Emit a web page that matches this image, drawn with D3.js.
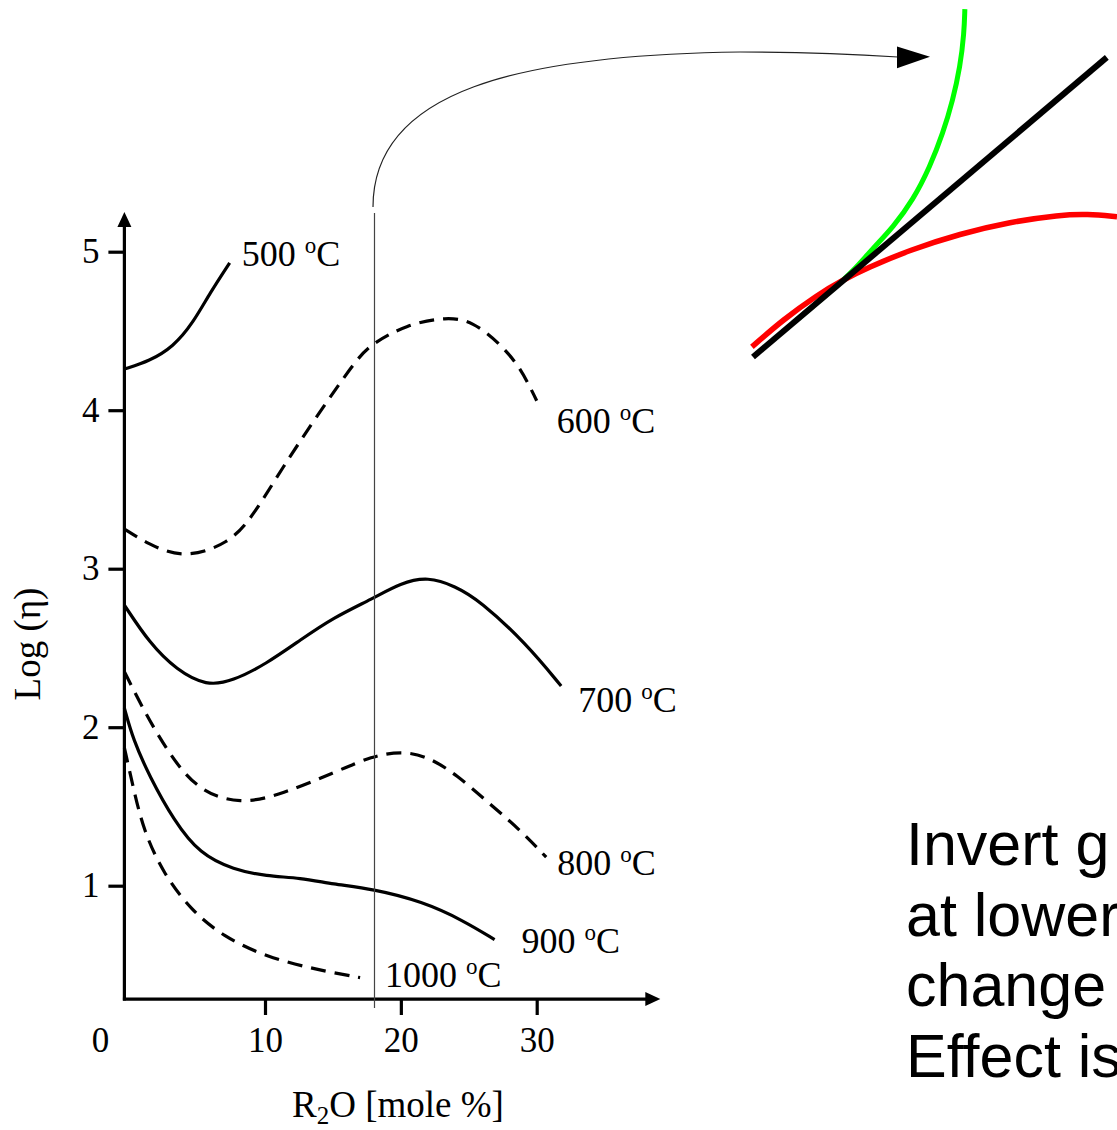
<!DOCTYPE html>
<html>
<head>
<meta charset="utf-8">
<script src="https://cdn.jsdelivr.net/npm/d3@7"></script>
<style>
  html, body { margin: 0; padding: 0; background: #fff; overflow: hidden; }
  svg { display: block; }
</style>
</head>
<body>
<div id="chart"></div>
<script>
// viscosity curves: [R2O mole %, log(eta)]
var temps = [500, 600, 700, 800, 900, 1000];

var curve500 = [[-0.35, 4.26], [1.5, 4.31], [3.25, 4.40], [4.7, 4.55], [5.95, 4.74], [7.4, 4.93]];
var curve600 = [[-0.35, 3.25], [1.3, 3.16], [4.0, 3.06], [7.4, 3.16], [9.1, 3.33], [11.3, 3.64], [13.8, 3.96],
  [16.8, 4.33], [17.9, 4.42], [20.4, 4.54], [23.4, 4.59], [25.3, 4.56], [27.3, 4.42], [28.8, 4.27], [30.0, 4.06]];
var curve700 = [[-0.35, 2.77], [1.5, 2.53], [3.5, 2.36], [5.7, 2.26], [7.6, 2.29], [10.1, 2.40], [12.6, 2.55],
  [15.0, 2.69], [17.9, 2.81], [20.0, 2.91], [22.0, 2.95], [24.0, 2.89], [25.8, 2.80], [29.2, 2.53], [31.8, 2.26]];
var curve800 = [[-0.35, 2.35], [1.05, 2.11], [2.8, 1.85], [5.0, 1.60], [8.2, 1.51], [11.3, 1.58], [15.0, 1.71],
  [17.9, 1.82], [20.2, 1.85], [22.1, 1.81], [24.1, 1.70], [26.5, 1.52], [28.8, 1.35], [30.7, 1.18]];
var curve900 = [[-0.35, 2.12], [0.3, 1.92], [1.5, 1.69], [3.3, 1.41], [5.2, 1.20], [7.7, 1.10], [10.1, 1.06],
  [12.6, 1.05], [15.0, 1.01], [17.9, 0.98], [21.6, 0.90], [24.6, 0.78], [26.9, 0.66]];
var curve1000 = [[-0.35, 1.87], [0.3, 1.62], [1.05, 1.35], [2.5, 1.08], [4.5, 0.85], [6.9, 0.68], [10.1, 0.55],
  [13.8, 0.47], [17.0, 0.42]];

var curves = [curve500, curve600, curve700, curve800, curve900, curve1000];

var xTicks = [10, 20, 30];
var yTicks = [1, 2, 3, 4, 5];
var markerR2O = 18.06;

// sketch on the right (arbitrary units 0..100)
var sketchGreen = [[12.0, 10.6], [21.2, 18.6], [27.5, 24.5], [33.0, 31.1], [38.5, 37.1],
  [44.0, 44.9], [48.6, 54.3], [52.2, 64.0], [54.9, 73.4], [56.9, 82.9], [58.0, 92.6], [58.2, 99.4]];
var sketchRed = [[-0.3, 2.9], [8.2, 10.6], [17.6, 17.7], [24.7, 22.0], [31.3, 25.4], [43.1, 30.6], [56.9, 35.2],
  [70.6, 38.6], [84.3, 40.6], [91.8, 40.9], [100, 40.1]];
var sketchBlack = [[0, 0], [97.2, 85.6]];

var noteLines = ["Invert g", "at lower", "change", "Effect is"];

// ---- layout ----
var W = 1117, H = 1130;
var serif = "'Liberation Serif', 'Times New Roman', serif";
var dashed = new Set([600, 800, 1000]);
var labelOffset = { 500: [12, 3], 600: [20, 32], 700: [17, 26], 800: [11, 18], 900: [27, 13], 1000: [25, 9] };

var svg = d3.select("#chart").append("svg")
  .attr("width", W)
  .attr("height", H)
  .style("background", "#fff");

var x = d3.scaleLinear().domain([0, 30]).range([129.15, 536.7]);
var y = d3.scaleLinear().domain([1, 5]).range([885.7, 251.7]);

var axisX0 = x(-0.35), axisXEnd = x(39.1);
var axisY0 = y(0.285), axisYEnd = y(5.25);

// axes lines + arrows
svg.append("line")
  .attr("x1", axisX0).attr("y1", axisY0 + 1.5)
  .attr("x2", axisX0).attr("y2", axisYEnd + 10)
  .attr("stroke", "#000").attr("stroke-width", 3.2);
svg.append("line")
  .attr("x1", axisX0 - 1.5).attr("y1", axisY0)
  .attr("x2", axisXEnd - 10).attr("y2", axisY0)
  .attr("stroke", "#000").attr("stroke-width", 3.2);
svg.append("path")
  .attr("d", `M${axisX0 - 7},${axisYEnd + 15} L${axisX0},${axisYEnd} L${axisX0 + 7},${axisYEnd + 15} Z`)
  .attr("fill", "#000");
svg.append("path")
  .attr("d", `M${axisXEnd - 15},${axisY0 - 7} L${axisXEnd},${axisY0} L${axisXEnd - 15},${axisY0 + 7} Z`)
  .attr("fill", "#000");

// ticks
var yAxis = svg.append("g")
  .attr("transform", `translate(${axisX0},0)`)
  .call(d3.axisLeft(y).tickValues(yTicks).tickSize(16).tickPadding(9).tickFormat(d3.format("d")));
var xAxis = svg.append("g")
  .attr("transform", `translate(0,${axisY0})`)
  .call(d3.axisBottom(x).tickValues(xTicks).tickSize(16).tickPadding(12).tickFormat(d3.format("d")));
[yAxis, xAxis].forEach(function(g) {
  g.select(".domain").remove();
  g.selectAll("line").attr("stroke", "#000").attr("stroke-width", 3.2);
  g.selectAll("text").attr("fill", "#000").style("font-family", serif).style("font-size", "35px");
});

svg.append("text")
  .attr("x", x(-2.1)).attr("y", axisY0 + 53)
  .attr("text-anchor", "middle")
  .style("font-family", serif).style("font-size", "35px")
  .text("0");

// axis titles
svg.append("text")
  .attr("transform", "translate(40,644) rotate(-90)")
  .attr("text-anchor", "middle")
  .style("font-family", serif).style("font-size", "37px")
  .text("Log (\u03b7)");

var xt = svg.append("text")
  .attr("x", 398).attr("y", 1117)
  .attr("text-anchor", "middle")
  .style("font-family", serif).style("font-size", "37px");
xt.append("tspan").text("R");
xt.append("tspan").attr("dy", 7).style("font-size", "25px").text("2");
xt.append("tspan").attr("dy", -7).text("O [mole %]");

// curves
var line = d3.line()
  .x(d => x(d[0]))
  .y(d => y(d[1]))
  .curve(d3.curveBasis);

curves.forEach(function(c, i) {
  var t = temps[i];
  svg.append("path")
    .attr("d", line(c))
    .attr("fill", "none")
    .attr("stroke", "#000")
    .attr("stroke-width", 3.2)
    .attr("stroke-dasharray", dashed.has(t) ? "15,9" : null);

  var last = c[c.length - 1];
  var lab = svg.append("text")
    .attr("x", x(last[0]) + labelOffset[t][0])
    .attr("y", y(last[1]) + labelOffset[t][1])
    .style("font-family", serif).style("font-size", "36px");
  lab.append("tspan").text(t + " ");
  lab.append("tspan").attr("dy", -13).style("font-size", "23px").text("o");
  lab.append("tspan").attr("dy", 13).text("C");
});

// marker line + connector arrow
var mx = x(markerR2O);
svg.append("line")
  .attr("x1", mx).attr("y1", axisY0 + 9)
  .attr("x2", mx).attr("y2", 213)
  .attr("stroke", "#444").attr("stroke-width", 1.2);

var conn = d3.path();
conn.moveTo(mx - 1.5, 207);
conn.bezierCurveTo(mx - 1.5, 90, 520, 55, 740, 52);
conn.quadraticCurveTo(820, 52, 898, 57);
svg.append("path")
  .attr("d", conn.toString())
  .attr("fill", "none")
  .attr("stroke", "#222").attr("stroke-width", 1.2);
svg.append("path")
  .attr("d", "M897,46.5 L930,56.7 L897,68.3 Z")
  .attr("fill", "#000");

// sketch
var sx = d3.scaleLinear().domain([0, 100]).range([753, 1117]);
var sy = d3.scaleLinear().domain([0, 100]).range([357, 7]);
var sline = d3.line().x(d => sx(d[0])).y(d => sy(d[1])).curve(d3.curveBasis);

svg.append("path").attr("d", sline(sketchGreen))
  .attr("fill", "none").attr("stroke", "#00ff00").attr("stroke-width", 5);
svg.append("path").attr("d", sline(sketchRed))
  .attr("fill", "none").attr("stroke", "#ff0000").attr("stroke-width", 5.5);
svg.append("path").attr("d", sline(sketchBlack))
  .attr("fill", "none").attr("stroke", "#000").attr("stroke-width", 6);

// note text (runs off the right edge, as in the original slide)
svg.selectAll(".note")
  .data(noteLines)
  .enter()
  .append("text")
  .attr("class", "note")
  .attr("x", 906)
  .attr("y", (d, i) => 865 + i * 70.7)
  .style("font-family", "'Liberation Sans', Arial, sans-serif")
  .style("font-size", "61px")
  .attr("fill", "#000")
  .text(d => d);
</script>
</body>
</html>
